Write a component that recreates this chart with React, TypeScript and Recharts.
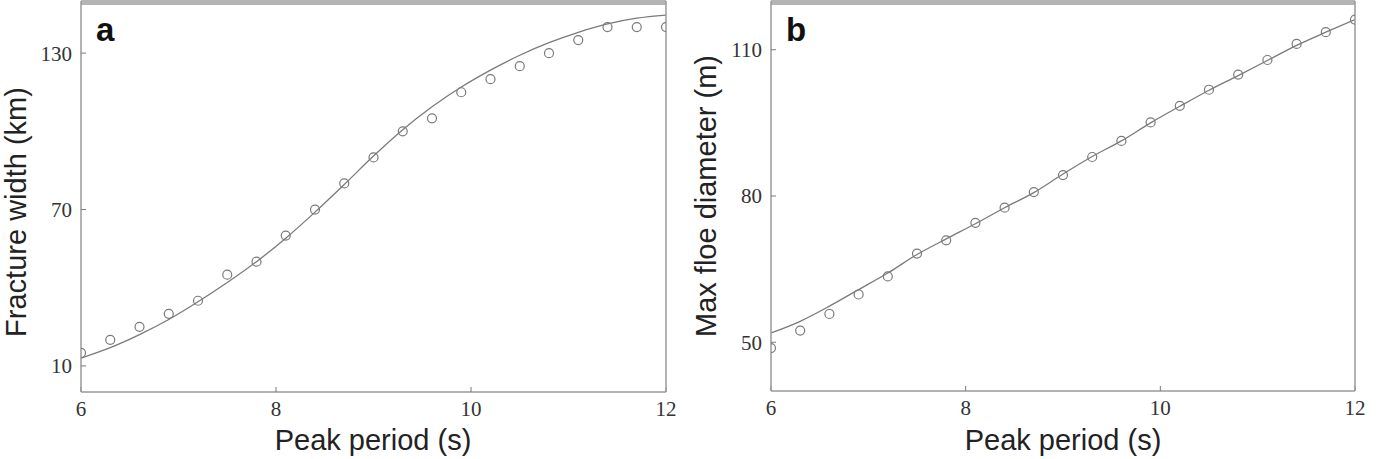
import React from 'react';
import { ComposedChart, Line, Scatter, XAxis, YAxis } from 'recharts';

// peak period (s), sampled every 0.3 s
const periods = [6, 6.3, 6.6, 6.9, 7.2, 7.5, 7.8, 8.1, 8.4, 8.7, 9, 9.3, 9.6, 9.9, 10.2, 10.5, 10.8, 11.1, 11.4, 11.7, 12];

// panel a: fracture width (km)
const widthModel = [15, 20, 25, 30, 35, 45, 50, 60, 70, 80, 90, 100, 105, 115, 120, 125, 130, 135, 140, 140, 140];
const widthFit = [13, 17, 22, 27.8, 34.6, 42, 50, 59, 69, 79.6, 90.5, 100.6, 109.4, 117, 123.5, 129.2, 134, 138, 141.2, 143.4, 144.6];

// panel b: max floe diameter (m)
const floeModel = [48.8, 52.4, 55.8, 59.8, 63.5, 68.2, 70.9, 74.5, 77.6, 80.8, 84.3, 88, 91.3, 95.1, 98.5, 101.8, 104.9, 107.9, 111.2, 113.6, 116.2];
const floeFit = [51.9, 54.3, 57.4, 60.8, 64.2, 68, 71.2, 74.3, 77.6, 80.7, 84.5, 88.1, 91.3, 95, 98.4, 101.7, 104.7, 107.8, 110.9, 113.6, 116.2];

const xTicks = [6, 8, 10, 12];
const widthTicks = [10, 70, 130];
const floeTicks = [50, 80, 110];

const frame = '#9a9a9a';
const ink = '#7a7a7a';
const tickFont = { fontFamily: 'Liberation Serif', fontSize: 21, fill: '#333' };
const blank = () => '';

const Ring = (props: any) => (
  <circle cx={props.cx} cy={props.cy} r={4.5} fill="none" stroke={ink} strokeWidth={1.2} />
);

interface PanelProps {
  model: number[];
  fit: number[];
  domain: [number, number];
  yTicks: number[];
  yWidth: number;
  right: number;
  xHeight: number;
}

function Panel({ model, fit, domain, yTicks, yWidth, right, xHeight }: PanelProps) {
  const pts = periods.map((p, i) => ({ x: p, y: model[i] }));
  const curve = periods.map((p, i) => ({ x: p, y: fit[i] }));
  return (
    <ComposedChart width={700} height={459} margin={{ top: 0, right: right - 1, bottom: 0, left: 0 }}>
      <XAxis
        dataKey="x" type="number" domain={[6, 12]} ticks={xTicks} height={xHeight}
        tickSize={-5} tickMargin={14} tick={tickFont}
        axisLine={{ stroke: frame, strokeWidth: 1.5 }} tickLine={{ stroke: ink }}
        allowDataOverflow
      />
      <XAxis
        xAxisId="top" orientation="top" dataKey="x" type="number" domain={[6, 12]} ticks={xTicks}
        height={1} tickSize={-5} tickFormatter={blank}
        axisLine={{ stroke: '#b4b4b4', strokeWidth: 8 }} tickLine={{ stroke: '#777' }}
      />
      <YAxis
        type="number" domain={domain} ticks={yTicks} width={yWidth}
        tickSize={-5} tickMargin={14} tick={tickFont}
        axisLine={{ stroke: frame, strokeWidth: 1.5 }} tickLine={{ stroke: ink }}
        allowDataOverflow
      />
      <YAxis
        yAxisId="right" orientation="right" type="number" domain={domain} ticks={yTicks} width={1}
        tickSize={-5} tickFormatter={blank}
        axisLine={{ stroke: frame, strokeWidth: 1.5 }} tickLine={{ stroke: ink }}
      />
      <Line
        data={curve} dataKey="y" type="monotone" stroke={ink} strokeWidth={1.3}
        dot={false} isAnimationActive={false}
      />
      <Scatter data={pts} dataKey="y" shape={Ring} isAnimationActive={false} />
    </ComposedChart>
  );
}

export default function App() {
  const title = { fontFamily: 'Liberation Sans', fontSize: 29, fill: '#222' };
  const letter = { fontFamily: 'Liberation Sans', fontSize: 33, fontWeight: 700, fill: '#111' };
  return (
    <div style={{ position: 'absolute', left: 0, top: 0, width: 1400, height: 459, background: '#fff' }}>
      <div style={{ position: 'absolute', left: 0, top: 0 }}>
        <Panel model={widthModel} fit={widthFit} domain={[0, 150]} yTicks={widthTicks} yWidth={81} right={34} xHeight={67} />
      </div>
      <div style={{ position: 'absolute', left: 700, top: 0 }}>
        <Panel model={floeModel} fit={floeFit} domain={[40, 120]} yTicks={floeTicks} yWidth={71} right={45} xHeight={68} />
      </div>
      <svg width={1400} height={459} style={{ position: 'absolute', left: 0, top: 0, pointerEvents: 'none' }}>
        <text x={96} y={41} style={letter}>a</text>
        <text x={786} y={41} style={letter}>b</text>
        <text x={373} y={450} textAnchor="middle" style={title}>Peak period (s)</text>
        <text x={1063} y={450} textAnchor="middle" style={title}>Peak period (s)</text>
        <text x={26} y={212} textAnchor="middle" transform="rotate(-90 26 212)" style={title}>Fracture width (km)</text>
        <text x={716} y={196} textAnchor="middle" transform="rotate(-90 716 196)" style={title}>Max floe diameter (m)</text>
      </svg>
    </div>
  );
}
